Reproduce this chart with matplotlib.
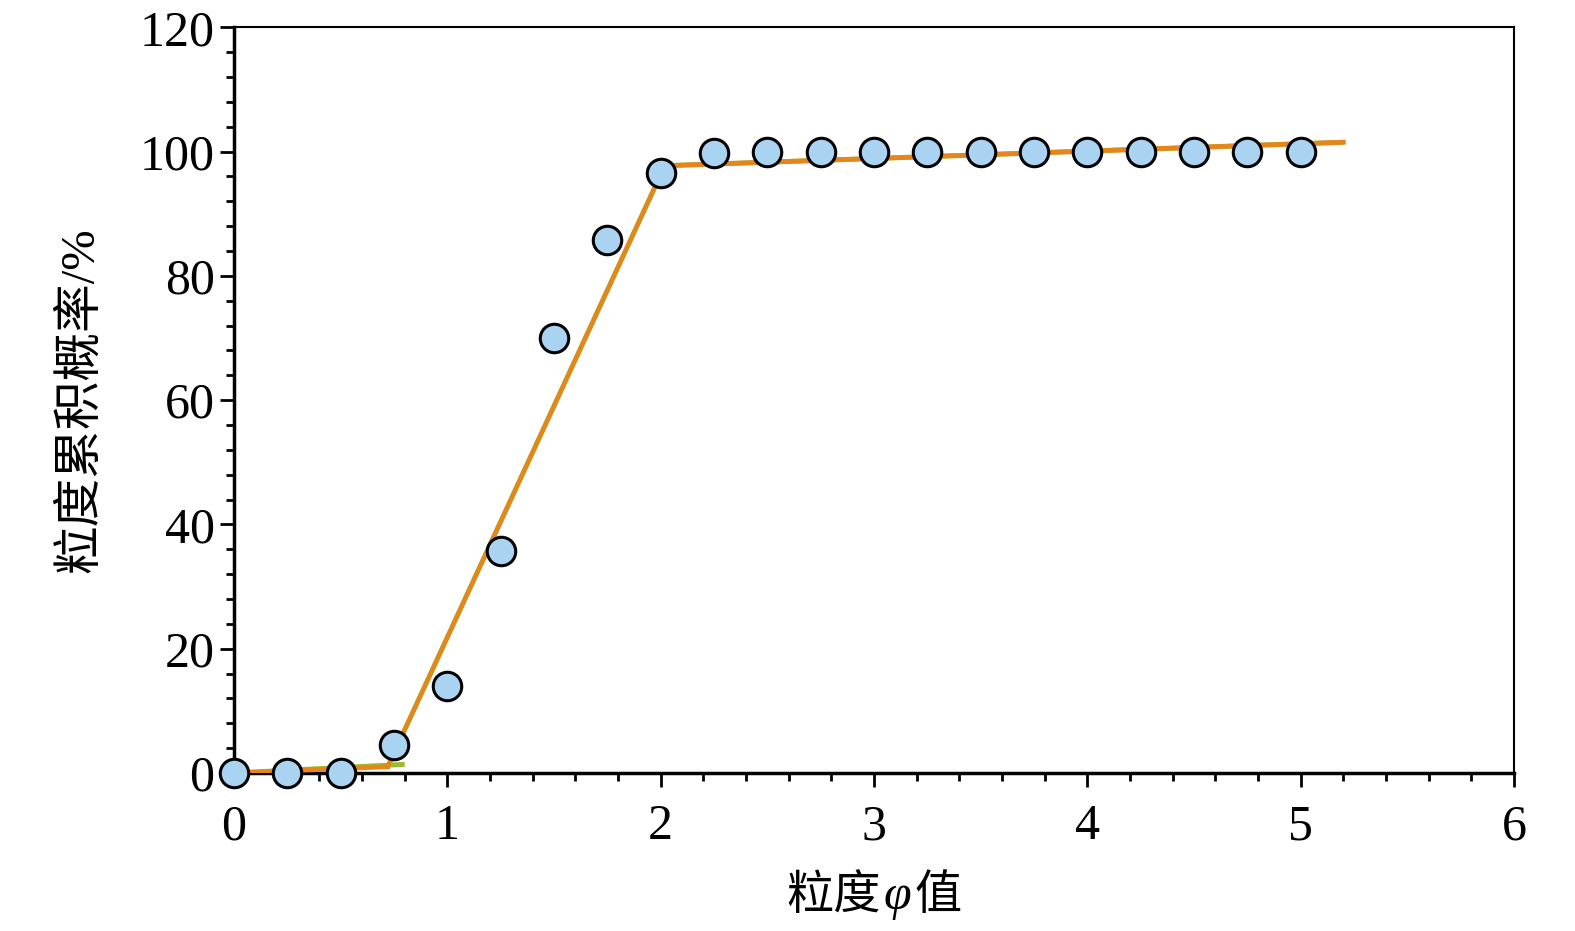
import matplotlib
matplotlib.use('Agg')
from matplotlib import pyplot as plt
from matplotlib.ticker import MultipleLocator
from matplotlib.offsetbox import TextArea, HPacker, AnchoredOffsetbox

plt.rcParams['font.family'] = ['Liberation Serif', 'Noto Sans CJK SC']

# measured points
phi = [0, 0.25, 0.5, 0.75, 1.0, 1.25, 1.5, 1.75, 2.0, 2.25, 2.5, 2.75,
       3.0, 3.25, 3.5, 3.75, 4.0, 4.25, 4.5, 4.75, 5.0]
cum = [0, 0, 0, 4.5, 14, 35.7, 70, 85.8, 96.5, 99.8, 100, 100,
       100, 100, 100, 100, 100, 100, 100, 100, 100]

# fitted segments (green underlay, orange on top)
seg1_x = [0, 0.8]
seg1_y = [0, 1.4]
seg2_x = [0.72, 2.02]
seg2_y = [1.0, 97.8]
seg3_x = [2.0, 5.2]
seg3_y = [97.7, 101.5]

fig = plt.figure(figsize=(15.75, 9.31), dpi=100)
ax = fig.add_axes([0.1486, 0.1697, 0.8127, 0.801])

for sx, sy in [(seg1_x, seg1_y), (seg2_x, seg2_y), (seg3_x, seg3_y)]:
    ax.plot(sx, sy, color='#9cbb2c', lw=3.6, solid_capstyle='butt', zorder=2)
ax.plot([0, 0.72], [0, 1.0], color='#e8841c', lw=3.4, zorder=3)
ax.plot(seg2_x, seg2_y, color='#e8841c', lw=3.0, zorder=3)
ax.plot(seg3_x, seg3_y, color='#e8841c', lw=3.4, zorder=3)

ax.plot(phi, cum, 'o', ms=20.5, mfc='#a9d3f1', mec='black', mew=2.2,
        zorder=5, clip_on=False)

ax.set_xlim(0, 6)
ax.set_ylim(0, 120)
ax.xaxis.set_major_locator(MultipleLocator(1))
ax.xaxis.set_minor_locator(MultipleLocator(0.2))
ax.yaxis.set_major_locator(MultipleLocator(20))
ax.yaxis.set_minor_locator(MultipleLocator(4))

ax.tick_params(which='both', direction='out', width=2, labelsize=36, top=False, right=False)
ax.tick_params(which='major', length=10, pad=4)
ax.tick_params(which='minor', length=6)
ax.tick_params(axis='x', which='major', pad=12)
for sp in ax.spines.values():
    sp.set_linewidth(1.5)
ax.spines['left'].set_linewidth(2.5)
ax.spines['bottom'].set_linewidth(2.5)

# x label: CJK text with an italic phi
parts = [TextArea('粒度', textprops=dict(fontsize=34, family=['Noto Sans CJK SC'])),
         TextArea('φ', textprops=dict(fontsize=36, family=['Liberation Serif'], style='italic')),
         TextArea('值', textprops=dict(fontsize=34, family=['Noto Sans CJK SC']))]
box = HPacker(children=parts, align='baseline', pad=0, sep=2)
anch = AnchoredOffsetbox(loc='center', child=box, frameon=False,
                         bbox_to_anchor=(0.5, -0.165), bbox_transform=ax.transAxes,
                         borderpad=0, pad=0)
ax.add_artist(anch)

ax.set_ylabel('粒度累积概率/%', fontsize=35, labelpad=26)

fig.savefig('out.png', dpi=100, facecolor='white')
